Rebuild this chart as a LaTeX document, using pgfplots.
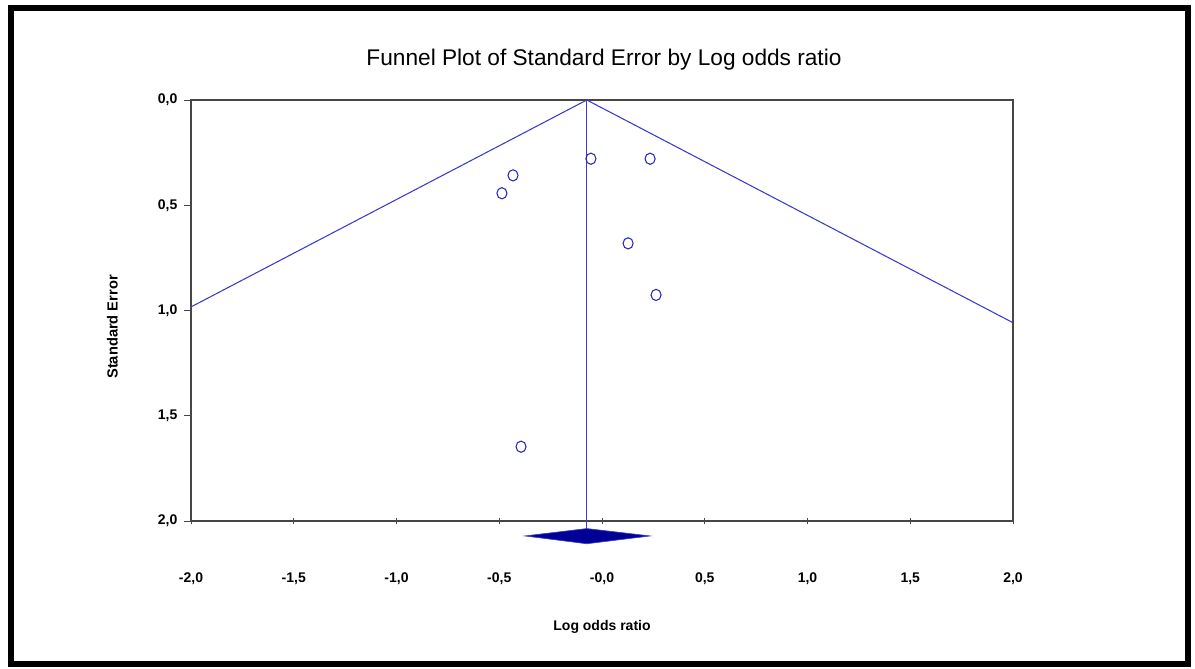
\documentclass[border=0pt]{standalone}
\usepackage{fontspec}
\setmainfont{Liberation Sans}
\usepackage{pgfplots}
\pgfplotsset{compat=1.18}
\definecolor{funnelblue}{RGB}{60,60,200}
\definecolor{dotblue}{RGB}{40,40,190}
\definecolor{diamondblue}{RGB}{0,0,150}
\definecolor{axisgray}{RGB}{70,70,70}

\begin{document}
\begin{tikzpicture}
  \path[use as bounding box] (0pt,0pt) rectangle (896.25pt,501pt);
  \draw[line width=4.5pt,black] (8.25pt,3pt) rectangle (891pt,495pt);
  \node[font=\fontsize{17}{20}\selectfont] at (453pt,456pt) {Funnel Plot of Standard Error by Log odds ratio};

  \begin{axis}[
    at={(143.25pt,110.25pt)}, anchor=south west,
    scale only axis,
    width=616.5pt, height=315.75pt,
    xmin=-2, xmax=2, ymin=0, ymax=2,
    y dir=reverse,
    clip=false,
    axis line style={axisgray, line width=0.9pt},
    xtick={-2,-1.5,-1,-0.5,0,0.5,1,1.5,2},
    xticklabels={{-2,0},{-1,5},{-1,0},{-0,5},{-0,0},{0,5},{1,0},{1,5},{2,0}},
    ytick={0,0.5,1,1.5,2},
    yticklabels={{0,0},{0,5},{1,0},{1,5},{2,0}},
    xtick pos=bottom, ytick pos=left,
    x tick style={axisgray, line width=0.7pt},
    y tick style={axisgray, line width=0.7pt},
    xtick align=center, ytick align=outside,
    major tick length=5pt,
    tick label style={font=\fontsize{10.5}{12}\selectfont\bfseries},
    xticklabel style={anchor=center, yshift=-40.5pt},
    yticklabel style={anchor=east, inner sep=0pt, xshift=-5pt},
    xlabel={Log odds ratio},
    ylabel={Standard Error},
    every axis x label/.style={at={(axis description cs:0.5,0)}, anchor=center, yshift=-79.5pt,
      font=\fontsize{10.5}{12}\selectfont\bfseries},
    every axis y label/.style={at={(axis description cs:0,0.461)}, anchor=center, rotate=90, yshift=59pt,
      font=\fontsize{11}{12}\selectfont\bfseries},
  ]
    % funnel limits
    \addplot[funnelblue, line width=0.8pt] coordinates {(-2,0.983) (-0.074,0) (2,1.058)};
    % overall effect line
    \addplot[funnelblue, line width=1pt] coordinates {(-0.074,0) (-0.074,2.04)};
    % studies
    \addplot[only marks, mark=o, mark size=4.2pt, dotblue, mark options={line width=0.8pt, xscale=0.9}] coordinates {
      (-0.433,0.358)
      (-0.487,0.443)
      (-0.054,0.279)
      (0.234,0.279)
      (0.127,0.681)
      (0.263,0.926)
      (-0.394,1.647)
    };
    % summary diamond
    \addplot[fill=diamondblue, draw=funnelblue, line width=0.5pt] coordinates {
      (-0.375,2.071) (-0.074,2.036) (0.234,2.071) (-0.074,2.108) (-0.375,2.071)
    } -- cycle;
  \end{axis}
\end{tikzpicture}
\end{document}
